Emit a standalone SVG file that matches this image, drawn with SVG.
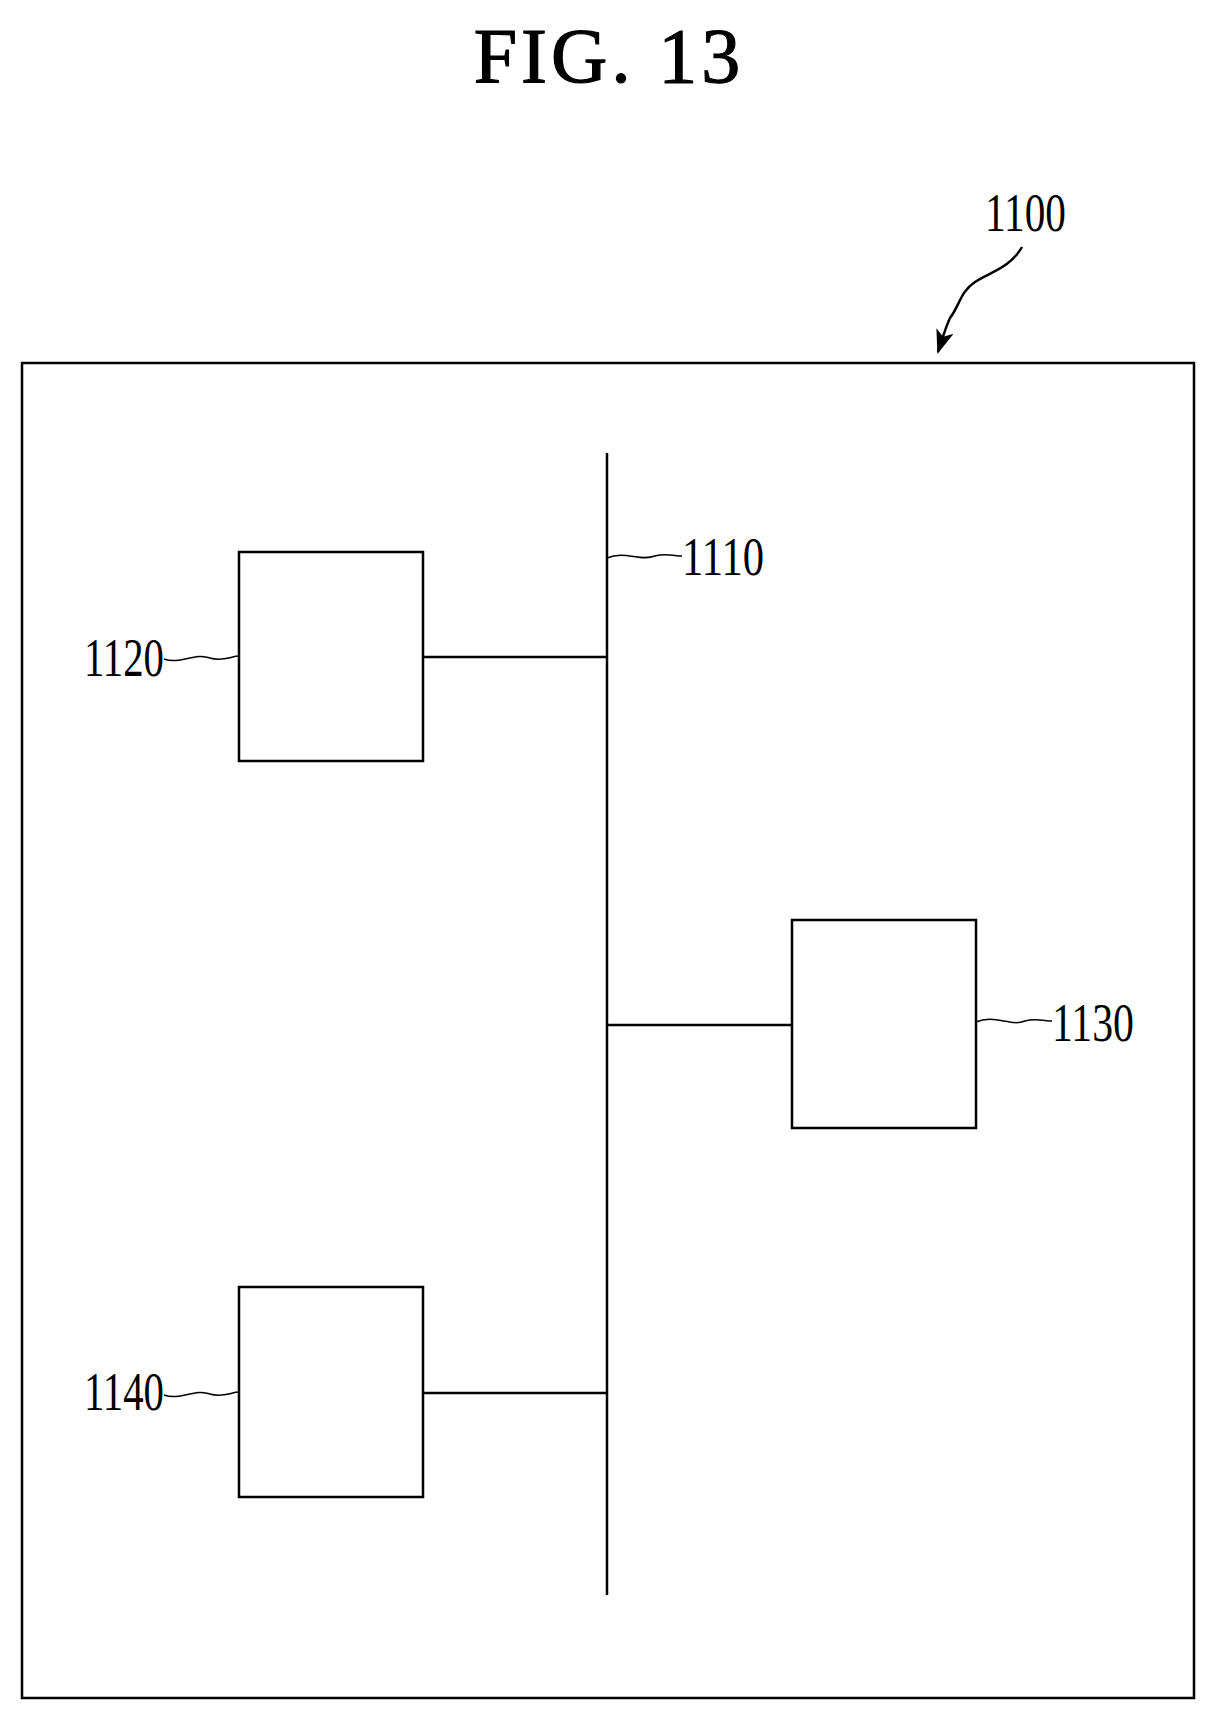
<svg xmlns="http://www.w3.org/2000/svg" width="1216" height="1723" viewBox="0 0 1216 1723">
<style>
.s{fill:none;stroke:#000;stroke-width:2.5}
.t{font-family:"Liberation Serif",serif;font-size:54px;fill:#000}
</style>
<defs><marker id="ah" markerWidth="24" markerHeight="18" refX="22" refY="9" orient="auto" markerUnits="userSpaceOnUse"><path d="M0,0 L24,9 L0,18 L6,9 Z" fill="#000"/></marker></defs>
<rect width="1216" height="1723" fill="#fff"/>
<text x="609" y="82" text-anchor="middle" font-family="Liberation Serif,serif" font-size="78" letter-spacing="4" stroke="#000" stroke-width="1.2">FIG. 13</text>
<g id="n1100"><rect class="s" x="22" y="363" width="1172" height="1335"/>
<text class="t" x="985" y="231" textLength="81" lengthAdjust="spacingAndGlyphs">1100</text>
<path class="s" d="M1022,247 C1010,268 990,272 975,282 C960,292 960,305 950,318 C946,326 942,340 938,352" marker-end="url(#ah)"/></g>
<g id="n1110"><line class="s" x1="607" y1="453" x2="607" y2="1595"/>
<text class="t" x="682" y="575" textLength="82" lengthAdjust="spacingAndGlyphs">1110</text></g>
<g id="n1120"><rect class="s" x="239" y="552" width="184" height="209"/>
<text class="t" x="84" y="676" textLength="80" lengthAdjust="spacingAndGlyphs">1120</text></g>
<g id="n1130"><rect class="s" x="792" y="920" width="184" height="208"/>
<text class="t" x="1052" y="1041" textLength="82" lengthAdjust="spacingAndGlyphs">1130</text></g>
<g id="n1140"><rect class="s" x="239" y="1287" width="184" height="210"/>
<text class="t" x="84" y="1410" textLength="80" lengthAdjust="spacingAndGlyphs">1140</text></g>
<g id="connectors" fill="none" stroke="#000" stroke-width="2.5">
<line x1="423" y1="657" x2="607" y2="657"/>
<line x1="607" y1="1025" x2="792" y2="1025"/>
<line x1="423" y1="1393" x2="607" y2="1393"/>
<path stroke-width="1.5" d="M607,558 C625,550 640,562 655,556 C665,553 675,556 682,556"/>
<path stroke-width="1.5" d="M164,659 C180,665 195,652 210,658 C222,662 232,656 239,656"/>
<path stroke-width="1.5" d="M976,1022 C995,1014 1010,1027 1025,1021 C1035,1018 1045,1021 1052,1021"/>
<path stroke-width="1.5" d="M164,1395 C180,1401 195,1388 210,1394 C222,1398 232,1392 239,1392"/>
</g>
</svg>
